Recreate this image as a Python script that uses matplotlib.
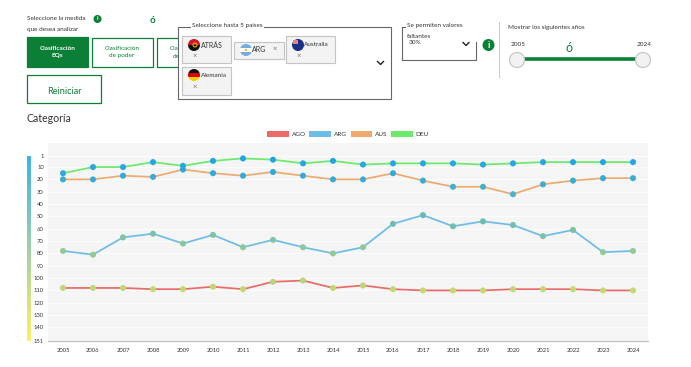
import matplotlib
matplotlib.use('Agg')
import matplotlib.pyplot as plt
import numpy as np
from matplotlib.colors import LinearSegmentedColormap
from matplotlib.patches import Circle, Rectangle, Patch

plt.rcParams['font.family'] = ['Lato', 'DejaVu Sans']

years = list(range(2005, 2025))
ago = [108, 108, 108, 109, 109, 107, 109, 103, 102, 108, 106, 109, 110, 110, 110, 109, 109, 109, 110, 110]
arg = [78, 81, 67, 64, 72, 65, 75, 69, 75, 80, 75, 56, 49, 58, 54, 57, 66, 61, 79, 78]
aus = [20, 20, 17, 18, 12, 15, 17, 14, 17, 20, 20, 15, 21, 26, 26, 32, 24, 21, 19, 19]
deu = [15, 10, 10, 6, 9, 5, 3, 4, 7, 5, 8, 7, 7, 7, 8, 7, 6, 6, 6, 6]
series_names = ['AGO', 'ARG', 'AUS', 'DEU']
series_colors = ['#eb6a6a', '#6dbcea', '#eeaa6e', '#6bea6b']
rank_ticks = [1, 10, 20, 30, 40, 50, 60, 70, 80, 90, 100, 110, 120, 130, 140, 151]

W, H = 691, 367
GREEN = '#0a7f35'
TEXT = '#333333'
rank_cmap = LinearSegmentedColormap.from_list('rank', ['#1ca3ec', '#ffee44'])


def axes_px(fig, x0, y0, x1, y1, **kw):
    return fig.add_axes([x0 / W, 1 - y1 / H, (x1 - x0) / W, (y1 - y0) / H], **kw)


fig = plt.figure(figsize=(W / 100, H / 100), dpi=100)

# the chart
ax = axes_px(fig, 48, 143, 648, 341)
ax.set_facecolor('#f5f5f5')
ax.set_xlim(2004.5, 2024.5)
ax.set_ylim(151, -9.5)
ax.set_xticks(years, [str(y) for y in years])
ax.set_yticks(rank_ticks)
ax.tick_params(length=0, labelsize=4.2, labelcolor=TEXT)
ax.tick_params(axis='x', pad=5)
ax.tick_params(axis='y', pad=3)
ax.grid(axis='y', color='white', lw=0.6)
ax.set_axisbelow(True)
for s in ['top', 'left', 'right']:
    ax.spines[s].set_visible(False)
ax.spines['bottom'].set_color('#bdbdbd')

for vals, col in zip([ago, arg, aus, deu], series_colors):
    ax.plot(years, vals, color=col, lw=1.25, zorder=3)
    ax.scatter(years, vals, c=vals, cmap=rank_cmap, vmin=1, vmax=151, s=19, lw=0, zorder=4)

handles = [Patch(facecolor=c, label=n) for n, c in zip(series_names, series_colors)]
ax.legend(handles=handles, ncols=4, loc='lower center', bbox_to_anchor=(0.5, 1.0), frameon=False,
          fontsize=4.6, labelcolor=TEXT, handlelength=3.4, handleheight=1.0, handletextpad=0.4,
          columnspacing=0.6, borderaxespad=0.7, borderpad=0.2)

# rank scale on the left
cax = axes_px(fig, 27, 156, 31, 341)
cax.imshow(np.linspace(0, 1, 200).reshape(-1, 1), cmap=rank_cmap, aspect='auto', alpha=0.85)
cax.axis('off')

# page controls, in pixel coordinates
ui = fig.add_axes([0, 0, 1, 1], zorder=5)
ui.set_xlim(0, W)
ui.set_ylim(H, 0)
ui.axis('off')


def box(x0, y0, x1, y1, fc='none', ec=GREEN, lw=0.9, z=2):
    ui.add_patch(Rectangle((x0, y0), x1 - x0, y1 - y0, fc=fc, ec=ec, lw=lw, zorder=z))


def label(x, y, s, size=4.6, color=TEXT, ha='left', **kw):
    ui.text(x, y, s, fontsize=size, color=color, ha=ha, va='center', zorder=kw.pop('zorder', 6), **kw)


def chevron(x, y):
    ui.plot([x - 3, x, x + 3], [y - 1.5, y + 1.5, y - 1.5], color='#222222', lw=1, zorder=6)


def info(x, y, r):
    ui.add_patch(Circle((x, y), r, fc=GREEN, ec='none', zorder=6))
    label(x, y, 'i', size=r * 1.1, color='white', ha='center', fontweight='bold', zorder=7)


def flag(x, y, colors, r=6):
    # horizontal bands clipped to a round badge
    badge = Circle((x, y), r, transform=ui.transData, fc='none', ec='none', zorder=5)
    ui.add_patch(badge)
    h = 2 * r / len(colors)
    for i, c in enumerate(colors):
        band = Rectangle((x - r, y - r + i * h), 2 * r, h, fc=c, ec='none', zorder=5)
        ui.add_patch(band)
        band.set_clip_path(badge)
    return badge


label(27, 18.5, 'Seleccione la medida')
label(27, 30, 'que desea analizar')
info(97.5, 19, 4)
label(153, 20.5, 'ó', size=7, color=GREEN, ha='center', fontweight='bold')

box(27, 37, 88, 67, fc=GREEN)
label(57.5, 52, 'Clasificación\nEQs', size=4.6, color='white', ha='center', fontweight='bold', linespacing=1.45)
box(92.5, 37.5, 153, 66.5)
label(122, 52, 'Clasificación\nde poder', size=4.6, color=GREEN, ha='center', linespacing=1.45)
box(157.5, 37.5, 200, 66.5)
label(170, 48.5, 'Cla', size=4.6, color=GREEN)
label(173, 57, 'de', size=4.6, color=GREEN)
box(27.5, 75, 101, 102.5)
label(64, 91, 'Reiniciar', size=6.6, color=GREEN, ha='center')
label(27, 118, 'Categoría', size=7.6)

# country selector
box(178.5, 26.5, 391, 98.5, fc='white', ec='#666666', lw=0.8, z=3)
ui.add_patch(Rectangle((191, 23), 73, 6, fc='white', ec='none', zorder=4))
label(192.5, 26, 'Seleccione hasta 5 países')
for x0, y0, x1, y1 in [(182.5, 35.5, 231, 63), (234.5, 41.5, 284, 58.5), (286.5, 35.5, 335.5, 63), (182.5, 66.5, 231, 94.5)]:
    box(x0, y0, x1, y1, fc='#f3f3f3', ec='#c4c4c4', lw=0.8, z=4)
flag(194, 45, ['#d0142c', '#111111'])
ui.add_patch(Circle((195, 45), 2, fc='none', ec='#f2c500', lw=0.7, zorder=5.5))
flag(246, 50, ['#74acdf', '#ffffff', '#74acdf'])
ui.add_patch(Circle((246, 50), 1.2, fc='#f6b40e', ec='none', zorder=5.5))
flag(298, 45, ['#1a2f8a', '#1a2f8a'])
ui.add_patch(Rectangle((293.5, 39.5), 4.5, 4, fc='#e8808a', ec='none', zorder=5.5))
flag(194, 75, ['#111111', '#dd0000', '#ffce00'])
label(200.5, 45, 'ATRÁS', size=5)
label(252, 50, 'ARG', size=5)
label(304, 45, 'Australia', size=4.6)
label(200.5, 75.5, 'Alemania', size=4.6)
for x, y in [(195, 55), (275, 48), (299, 55), (195, 86)]:
    label(x, y, '×', size=5.5, color='#777777', ha='center')
chevron(380.5, 63)

# missing values dropdown
ui.plot([402.5, 405], [26.5, 26.5], color='#666666', lw=0.8, zorder=4)
ui.plot([402.5, 402.5, 476.5, 476.5], [26.5, 59.5, 59.5, 42], color='#666666', lw=0.8, zorder=4)
label(407, 26, 'Se permiten valores')
label(407, 37, 'faltantes')
label(409, 43, '30%')
chevron(466, 44)
info(488.5, 45, 6)
ui.plot([499.5, 499.5], [22, 77], color='#cccccc', lw=0.8, zorder=2)

# year range slider
label(508, 27, 'Mostrar los siguientes años')
label(511, 44, '2005')
label(637, 44, '2024')
label(569, 48, 'ó', size=9, color=GREEN, ha='center')
ui.plot([517, 640], [59, 59], color=GREEN, lw=2.6, zorder=3, solid_capstyle='butt')
for x in [517, 643]:
    ui.add_patch(Circle((x, 60), 7.5, fc='#f2f2f2', ec='#c8c8c8', lw=0.9, zorder=4))

fig.savefig('out.png', dpi=100)
